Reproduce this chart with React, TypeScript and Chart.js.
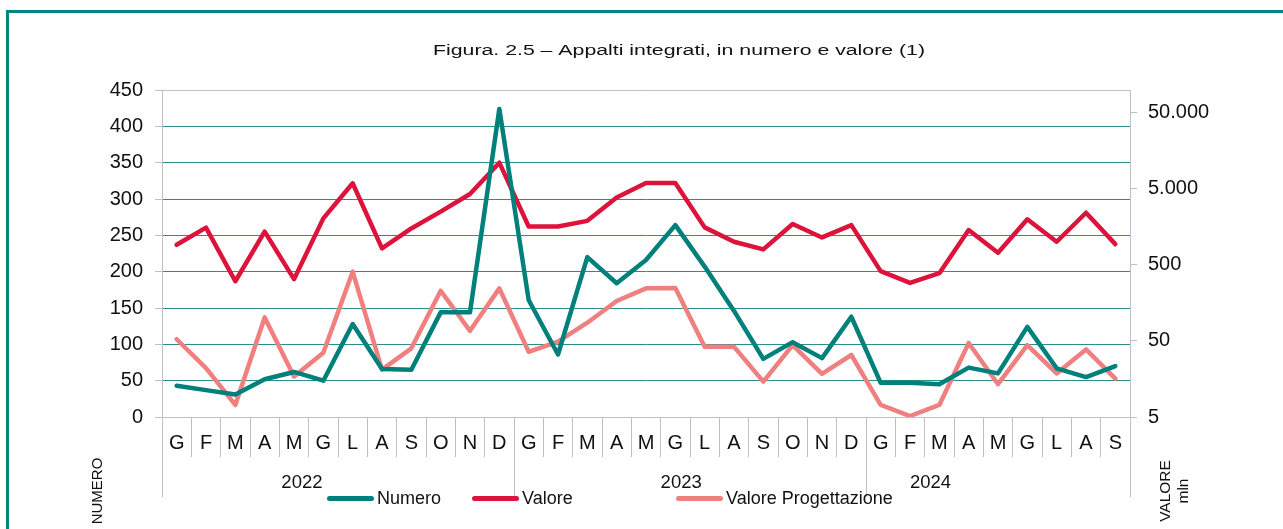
import { useEffect, useRef } from 'react';
import { Chart, registerables } from 'chart.js';

Chart.register(...registerables);

const months = [
  'G', 'F', 'M', 'A', 'M', 'G', 'L', 'A', 'S', 'O', 'N', 'D',
  'G', 'F', 'M', 'A', 'M', 'G', 'L', 'A', 'S', 'O', 'N', 'D',
  'G', 'F', 'M', 'A', 'M', 'G', 'L', 'A', 'S',
];
const years = ['2022', '2023', '2024'];
const monthsPerYear = [12, 12, 9];

const numero = [43, 37, 31, 52, 62, 50, 128, 66, 65, 144, 144, 424, 161, 86, 220, 184, 216, 264, 207, 146, 80, 103, 81, 138, 47, 47, 45, 68, 60, 124, 67, 55, 70];
const valore = [920, 1550, 305, 1370, 325, 2050, 5930, 825, 1510, 2510, 4290, 11070, 1600, 1600, 1900, 3850, 5980, 5980, 1560, 1010, 800, 1730, 1150, 1670, 415, 290, 390, 1440, 725, 1990, 1010, 2430, 940];
const valoreProgettazione = [52.7, 22, 7.2, 102, 17, 35, 408, 21, 40, 229, 68, 246, 36, 49, 87, 168, 246, 248, 42, 42, 14.6, 44, 18.4, 32.7, 7.2, 5.15, 7.2, 47, 13.5, 44, 18.7, 38.7, 16];

const leftTicks = [0, 50, 100, 150, 200, 250, 300, 350, 400, 450];
const rightTicks = [5, 50, 500, 5000, 50000];

const titleText = 'Figura. 2.5 – Appalti integrati, in numero e valore (1)';
const leftAxisTitle = ['NUMERO'];
const rightAxisTitle = ['VALORE', 'mln'];

const FONT = '"Liberation Sans", Arial, Helvetica, sans-serif';
const TEAL = '#00807B';
const RED = '#DC143C';
const SALMON = '#F08080';
const GRID = '#2A8E89';
const GRAY = '#C0C0C0';
const TEXT = '#111111';

const fmtThousands = (v: number) => String(v).replace(/\B(?=(\d{3})+(?!\d))/g, '.');

// layout constants for decorations
const yearLabelPos = [4.27, 17.2, 25.7];
const legendStartX = [327, 472, 676];

const decorPlugin = {
  id: 'decor',
  afterDraw(chart: any) {
    const ctx: CanvasRenderingContext2D = chart.ctx;
    const x = chart.scales.x;
    const area = chart.chartArea;
    ctx.save();

    // frame
    ctx.strokeStyle = '#00857F';
    ctx.lineWidth = 3;
    ctx.beginPath();
    ctx.moveTo(7.5, 540);
    ctx.lineTo(7.5, 11.5);
    ctx.lineTo(1300, 11.5);
    ctx.stroke();

    // title (stretched horizontally like the reference)
    ctx.fillStyle = TEXT;
    ctx.font = `15.5px ${FONT}`;
    ctx.textBaseline = 'alphabetic';
    ctx.textAlign = 'left';
    const tw = ctx.measureText(titleText).width;
    const targetW = 492;
    ctx.save();
    ctx.translate(433, 54.5);
    ctx.scale(targetW / tw, 1);
    ctx.fillText(titleText, 0, 0);
    ctx.restore();

    // year separators
    const step = x.getPixelForValue(1) - x.getPixelForValue(0);
    const bounds = [0];
    let acc = 0;
    monthsPerYear.forEach((n) => { acc += n; bounds.push(acc); });
    ctx.strokeStyle = GRAY;
    ctx.lineWidth = 1;
    bounds.forEach((b) => {
      const px = Math.round(x.getPixelForValue(b) - step / 2) + 0.5;
      ctx.beginPath();
      ctx.moveTo(px, area.bottom);
      ctx.lineTo(px, 497);
      ctx.stroke();
    });

    // year labels
    ctx.fillStyle = TEXT;
    ctx.font = `18.5px ${FONT}`;
    ctx.textAlign = 'center';
    ctx.textBaseline = 'middle';
    years.forEach((y, i) => {
      ctx.fillText(y, x.getPixelForValue(yearLabelPos[i]), 483);
    });

    // legend
    ctx.font = `18px ${FONT}`;
    ctx.textAlign = 'left';
    ctx.textBaseline = 'middle';
    chart.data.datasets.forEach((ds: any, i: number) => {
      const sx = legendStartX[i];
      ctx.strokeStyle = ds.borderColor;
      ctx.lineWidth = 5;
      ctx.lineCap = 'round';
      ctx.beginPath();
      ctx.moveTo(sx + 2.5, 498.5);
      ctx.lineTo(sx + 44.5, 498.5);
      ctx.stroke();
      ctx.fillStyle = TEXT;
      ctx.fillText(ds.label, sx + 50, 499);
    });

    // axis titles
    ctx.save();
    ctx.font = `15px ${FONT}`;
    ctx.fillStyle = TEXT;
    ctx.textAlign = 'center';
    ctx.textBaseline = 'middle';
    ctx.translate(97.5, 491);
    ctx.rotate(-Math.PI / 2);
    ctx.fillText(leftAxisTitle[0], 0, 0);
    ctx.restore();

    ctx.save();
    ctx.font = `15.5px ${FONT}`;
    ctx.fillStyle = TEXT;
    ctx.textAlign = 'center';
    ctx.textBaseline = 'middle';
    ctx.translate(1175, 491);
    ctx.rotate(-Math.PI / 2);
    ctx.fillText(rightAxisTitle[0], 0, -9);
    ctx.fillText(rightAxisTitle[1], 0, 9);
    ctx.restore();

    ctx.restore();
  },
};

export default function App() {
  const ref = useRef<HTMLCanvasElement | null>(null);

  useEffect(() => {
    if (!ref.current) return;
    const chart = new Chart(ref.current, {
      type: 'line',
      data: {
        labels: months,
        datasets: [
          {
            label: 'Numero',
            data: numero,
            yAxisID: 'y',
            borderColor: TEAL,
            backgroundColor: TEAL,
            borderWidth: 4.5,
            pointRadius: 0,
            tension: 0,
            borderJoinStyle: 'round',
            borderCapStyle: 'round',
            order: 0,
          },
          {
            label: 'Valore',
            data: valore,
            yAxisID: 'y1',
            borderColor: RED,
            backgroundColor: RED,
            borderWidth: 4.5,
            pointRadius: 0,
            tension: 0,
            borderJoinStyle: 'round',
            borderCapStyle: 'round',
            order: 1,
          },
          {
            label: 'Valore Progettazione',
            data: valoreProgettazione,
            yAxisID: 'y1',
            borderColor: SALMON,
            backgroundColor: SALMON,
            borderWidth: 4.5,
            pointRadius: 0,
            tension: 0,
            borderJoinStyle: 'round',
            borderCapStyle: 'round',
            order: 2,
          },
        ],
      },
      options: {
        animation: false,
        responsive: false,
        devicePixelRatio: 1,
        layout: { padding: { top: 90, left: 0, right: 0, bottom: 0 } },
        plugins: {
          legend: { display: false },
          title: { display: false },
          tooltip: { enabled: false },
        },
        scales: {
          x: {
            type: 'category',
            offset: true,
            grid: {
              offset: true,
              drawOnChartArea: false,
              drawTicks: true,
              tickLength: 40,
              color: GRAY,
              tickColor: GRAY,
              lineWidth: 1,
            },
            border: { display: true, color: GRAY },
            ticks: {
              autoSkip: false,
              maxRotation: 0,
              minRotation: 0,
              padding: -26,
              color: TEXT,
              font: { size: 20, family: FONT },
            },
            afterFit: (s: any) => { s.height = 112; },
          },
          y: {
            type: 'linear',
            position: 'left',
            min: 0,
            max: 450,
            afterBuildTicks: (s: any) => { s.ticks = leftTicks.map((v) => ({ value: v })); },
            grid: {
              color: (c: any) => (c.tick && (c.tick.value === 450 || c.tick.value === 0) ? GRAY : GRID),
              tickColor: GRAY,
              tickLength: 7,
              lineWidth: 1,
            },
            border: { display: true, color: GRAY },
            ticks: {
              padding: 12,
              color: TEXT,
              font: { size: 20, family: FONT },
            },
            afterFit: (s: any) => { s.width = 162; },
          },
          y1: {
            type: 'logarithmic',
            position: 'right',
            min: 5,
            max: 100000,
            afterBuildTicks: (s: any) => { s.ticks = rightTicks.map((v) => ({ value: v })); },
            grid: {
              drawOnChartArea: false,
              tickColor: GRAY,
              tickLength: 7,
              color: GRAY,
            },
            border: { display: true, color: GRAY },
            ticks: {
              padding: 11,
              color: TEXT,
              font: { size: 20, family: FONT },
              callback: (v: any) => fmtThousands(Number(v)),
            },
            afterFit: (s: any) => { s.width = 153; },
          },
        },
      },
      plugins: [decorPlugin],
    } as any);
    return () => chart.destroy();
  }, []);

  return (
    <div style={{ position: 'fixed', left: 0, top: 0, width: 1283, height: 529, background: '#fff' }}>
      <canvas ref={ref} width={1283} height={529} style={{ width: 1283, height: 529, display: 'block' }} />
    </div>
  );
}
